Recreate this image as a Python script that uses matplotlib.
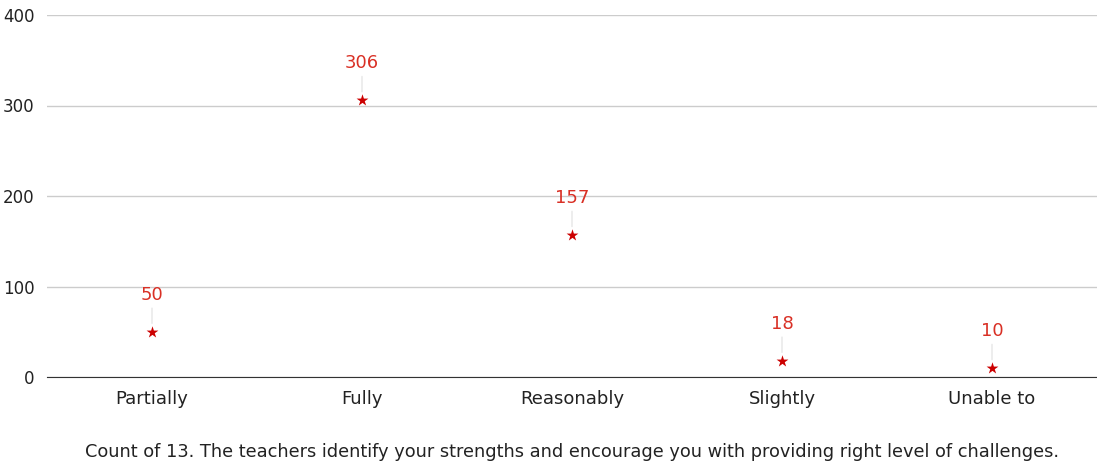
import matplotlib
matplotlib.use("Agg")
import matplotlib.pyplot as plt

plt.rcParams['font.family'] = ['DejaVu Sans']

categories = ["Partially", "Fully", "Reasonably", "Slightly", "Unable to"]
counts = [50, 306, 157, 18, 10]
title = "Count of 13. The teachers identify your strengths and encourage you with providing right level of challenges."

fig = plt.figure(figsize=(10.97, 4.63), dpi=100)
ax = fig.add_axes([47 / 1097, 86 / 463, 1050 / 1097, 362 / 463])

x = list(range(len(categories)))
ax.scatter(x, counts, marker="*", s=80, color="#cc0000", zorder=3, linewidths=0)

for xi, v in zip(x, counts):
    # faint leader line from point to label
    ax.annotate(str(v), xy=(xi, v), xytext=(0, 20), textcoords="offset points",
                ha="center", va="bottom", color="#d93025", fontsize=13,
                arrowprops=dict(arrowstyle="-", color="#e6e6e6", lw=1,
                                shrinkA=1, shrinkB=6))

ax.set_xlim(-0.5, len(categories) - 0.5)
ax.set_ylim(0, 400)
ax.set_yticks([0, 100, 200, 300, 400])
ax.set_xticks(x)
ax.set_xticklabels(categories)
ax.grid(axis="y", color="#cccccc", lw=1)
ax.set_axisbelow(True)
for s in ["top", "right", "left"]:
    ax.spines[s].set_visible(False)
ax.spines["bottom"].set_color("#333333")
ax.spines["bottom"].set_zorder(2)
ax.tick_params(length=0, colors="#222222")
ax.tick_params(axis="y", pad=9, labelsize=12)
ax.tick_params(axis="x", pad=9, labelsize=13)

fig.text(572 / 1097, 1 - 452 / 463, title, ha="center", va="center", fontsize=12.8, color="#222222")

fig.savefig("out.png", dpi=100)
